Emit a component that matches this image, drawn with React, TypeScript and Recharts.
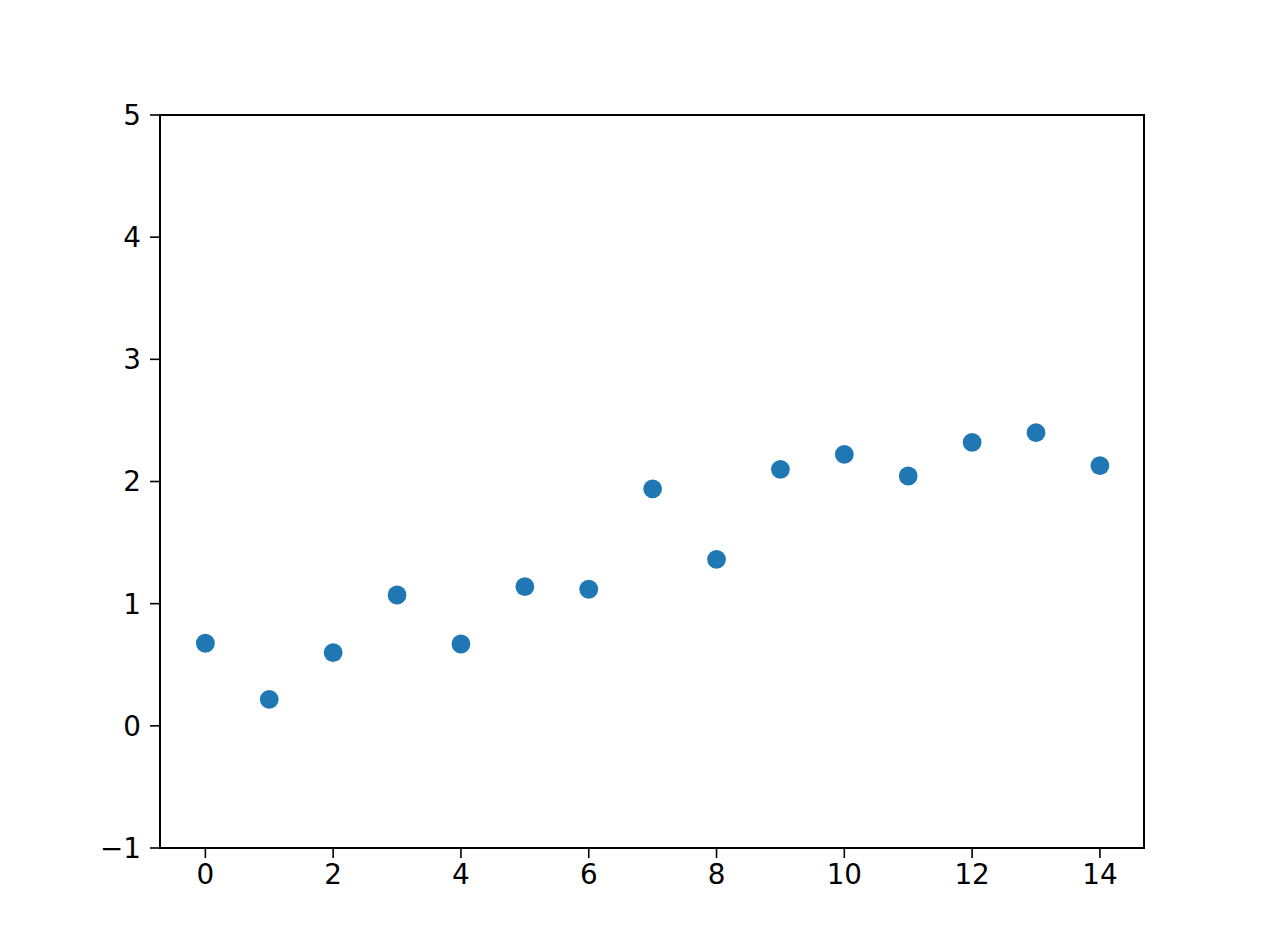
import { ReferenceArea, Scatter, ScatterChart, XAxis, YAxis } from "recharts";

const xValues = [0, 1, 2, 3, 4, 5, 6, 7, 8, 9, 10, 11, 12, 13, 14];
const yValues = [
  0.676, 0.217, 0.599, 1.071, 0.67, 1.139, 1.118, 1.94, 1.363, 2.1, 2.222,
  2.045, 2.321, 2.4, 2.13,
];
const xTicks = [0, 2, 4, 6, 8, 10, 12, 14];
const yTicks = [-1, 0, 1, 2, 3, 4, 5];

const points = xValues.map((x, i) => ({ x, y: yValues[i] }));

const tickStyle = {
  fill: "#000",
  fontSize: 27.8,
  fontFamily: "DejaVu Sans, sans-serif",
};

const formatTick = (v: number) => (v < 0 ? `\u2212${Math.abs(v)}` : `${v}`);

const Dot = (props: any) => (
  <circle cx={props.cx} cy={props.cy} r={9.4} fill="#1f77b4" />
);

export default function App() {
  return (
    <div style={{ position: "absolute", left: 0, top: 0, background: "#fff" }}>
      <ScatterChart
        width={1272}
        height={952}
        margin={{ top: 115, right: 128, bottom: 54, left: 60 }}
      >
        <XAxis
          type="number"
          dataKey="x"
          domain={[-0.71, 14.69]}
          ticks={xTicks}
          allowDataOverflow
          height={50}
          tickSize={10}
          tickMargin={6}
          tick={tickStyle}
          tickLine={{ stroke: "#000", strokeWidth: 1.6 }}
          axisLine={{ stroke: "#000", strokeWidth: 2 }}
          tickFormatter={formatTick}
        />
        <YAxis
          type="number"
          dataKey="y"
          domain={[-1, 5]}
          ticks={yTicks}
          allowDataOverflow
          width={100}
          tickSize={10}
          tickMargin={9}
          tick={tickStyle}
          tickLine={{ stroke: "#000", strokeWidth: 1.6 }}
          axisLine={{ stroke: "#000", strokeWidth: 2 }}
          tickFormatter={formatTick}
        />
        <ReferenceArea
          x1={-0.71}
          x2={14.69}
          y1={-1}
          y2={5}
          fill="none"
          stroke="#000"
          strokeWidth={2}
          ifOverflow="visible"
        />
        <Scatter data={points} shape={Dot} isAnimationActive={false} />
      </ScatterChart>
    </div>
  );
}
